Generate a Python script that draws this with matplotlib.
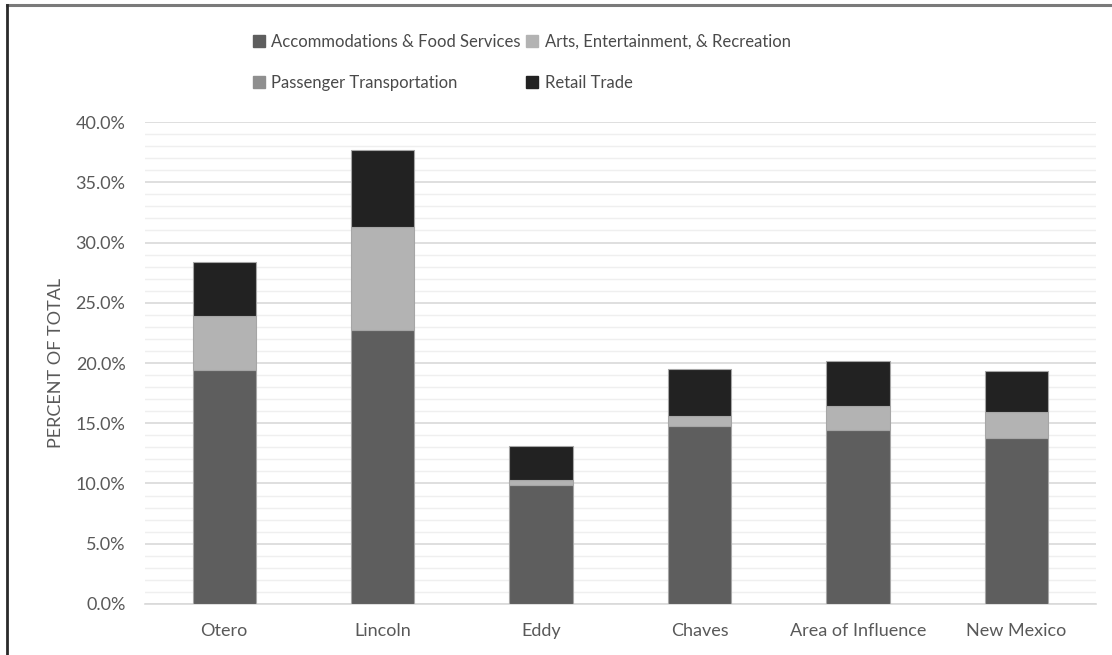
import matplotlib
matplotlib.use('Agg')
import matplotlib.pyplot as plt
import numpy as np
from matplotlib.lines import Line2D
from matplotlib.ticker import MultipleLocator, PercentFormatter

plt.rcParams['font.family'] = ['Lato', 'DejaVu Sans']

regions = ['Otero', 'Lincoln', 'Eddy', 'Chaves', 'Area of Influence', 'New Mexico']
accommodations = [19.4, 22.7, 9.9, 14.8, 14.4, 13.8]
arts = [4.5, 8.6, 0.35, 0.8, 2.0, 2.1]
passenger = [0.0, 0.0, 0.0, 0.0, 0.0, 0.0]
retail = [4.5, 6.4, 2.85, 3.9, 3.8, 3.4]

series = [
    ('Accommodations & Food Services', accommodations, '#5e5e5e'),
    ('Arts, Entertainment, & Recreation', arts, '#b3b3b3'),
    ('Passenger Transportation', passenger, '#8f8f8f'),
    ('Retail Trade', retail, '#222222'),
]

text_col = '#595959'

fig = plt.figure(figsize=(11.12, 6.55), dpi=100)
ax = fig.add_axes([0.1304, 0.0779, 0.855, 0.7358])

x = np.arange(len(regions))
bottom = np.zeros(len(regions))
handles = []
for name, vals, col in series:
    vals = np.array(vals)
    lw = 0.8 if vals.any() else 0
    ax.bar(x, vals, width=0.4, bottom=bottom, color=col,
           edgecolor='#a6a6a6', linewidth=lw, zorder=3)
    bottom += vals
    handles.append(Line2D([], [], marker='s', color=col, linestyle='none',
                          markersize=8.5, label=name))

ax.set_xlim(-0.5, len(regions) - 0.5)
ax.set_ylim(0, 40)
ax.yaxis.set_major_locator(MultipleLocator(5))
ax.yaxis.set_minor_locator(MultipleLocator(1))
ax.yaxis.set_major_formatter(PercentFormatter(decimals=1))
ax.grid(axis='y', which='major', color='#d9d9d9', linewidth=1.2, zorder=0)
ax.grid(axis='y', which='minor', color='#efefef', linewidth=1.0, zorder=0)
ax.set_axisbelow(True)

ax.set_xticks(x)
ax.set_xticklabels(regions)
ax.tick_params(axis='both', which='both', length=0, labelsize=13, colors=text_col)
ax.tick_params(axis='x', pad=14)
ax.tick_params(axis='y', pad=14)
for s in ['top', 'right', 'left']:
    ax.spines[s].set_visible(False)
ax.spines['bottom'].set_color('#d9d9d9')
ax.spines['bottom'].set_linewidth(1.2)

ax.set_ylabel('PERCENT OF TOTAL', fontsize=13, color=text_col, labelpad=8)

# legend laid out row by row in two columns
order = [0, 2, 1, 3]
leg = fig.legend([handles[i] for i in order], [handles[i].get_label() for i in order],
                 ncol=2, loc='upper left', bbox_to_anchor=(0.213, 0.971),
                 frameon=False, fontsize=12, handlelength=0.8, handletextpad=0.35,
                 columnspacing=0.3, labelspacing=1.5)
for t in leg.get_texts():
    t.set_color('#4a4a4a')

# chart border on top and left
fig.add_artist(Line2D([0.0063, 1.0], [0.9924, 0.9924], color='#7a7a7a', linewidth=2.2,
                      transform=fig.transFigure))
fig.add_artist(Line2D([0.0063, 0.0063], [0.0, 0.9924], color='#2a2a2a', linewidth=2.0,
                      transform=fig.transFigure))

fig.savefig('out.png', dpi=100)
